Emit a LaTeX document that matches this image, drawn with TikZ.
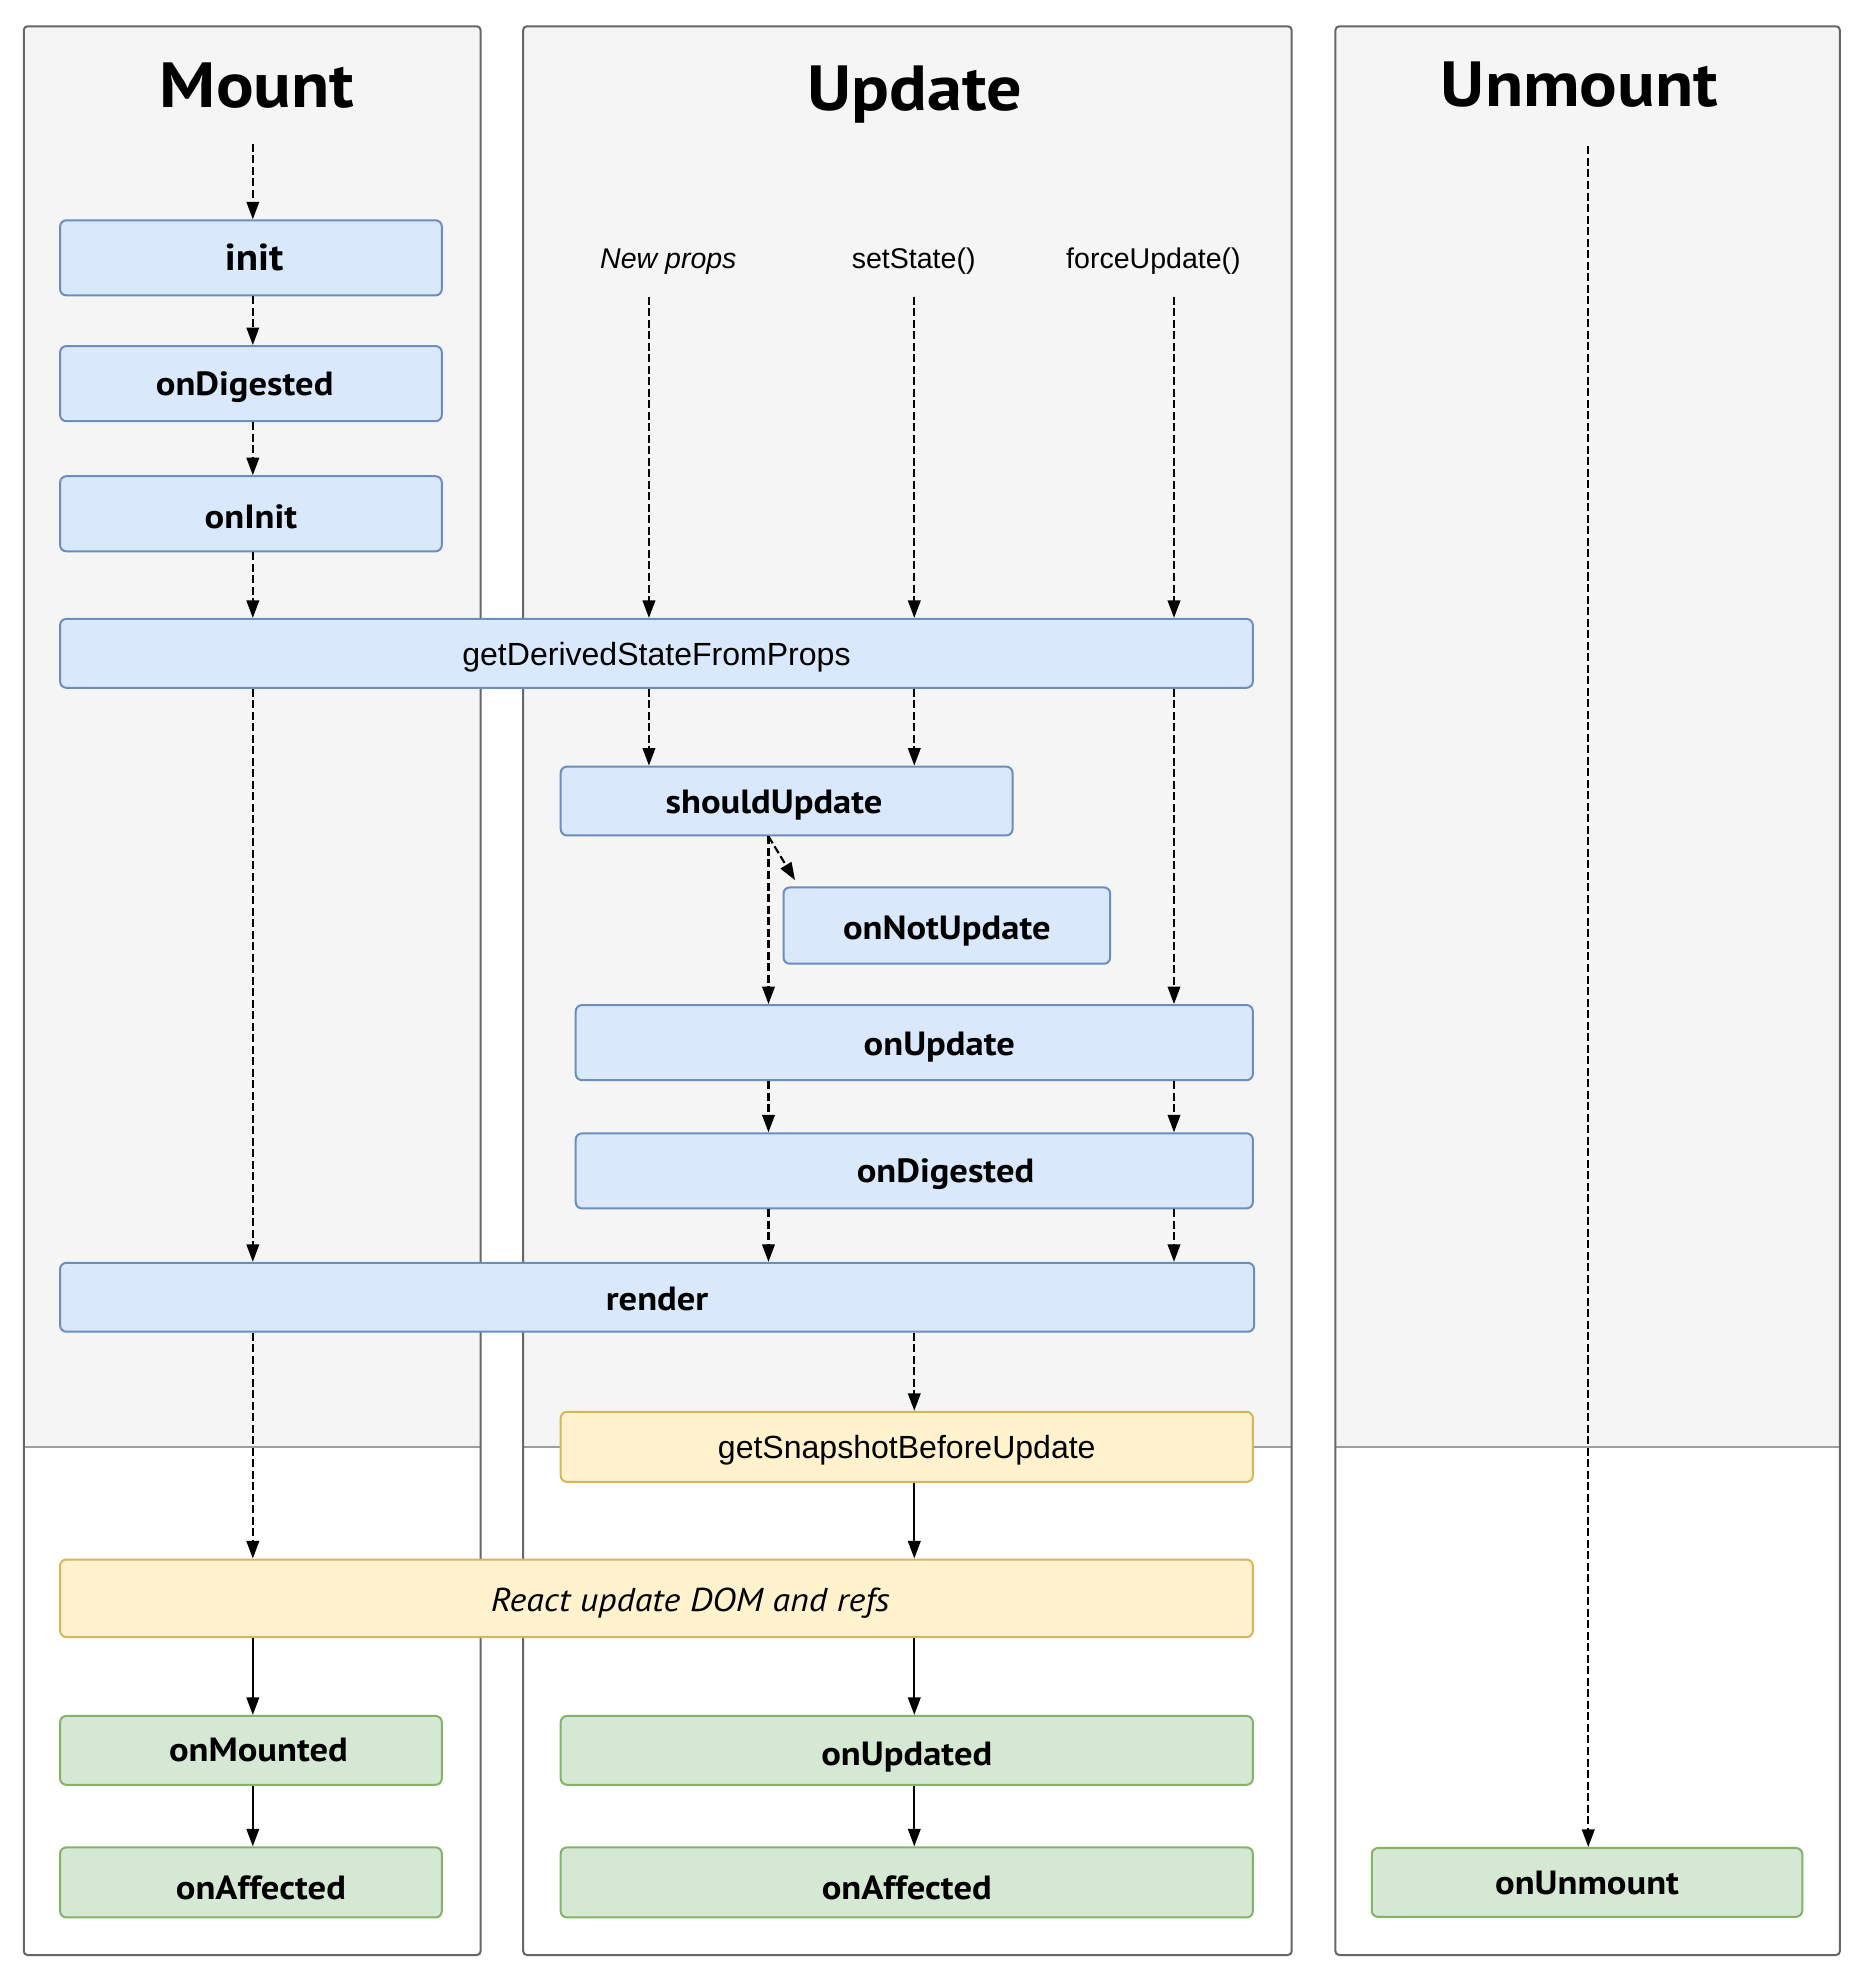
\documentclass[tikz,border=0pt]{standalone}
\usepackage{fontspec}
\setmainfont{Liberation Sans}
\newfontfamily\labelfont[FakeStretch=1.09]{PT Sans}
\newfontfamily\titlefont[FakeStretch=1.1]{PT Sans}
\usetikzlibrary{arrows.meta,positioning}
\definecolor{panelgray}{HTML}{F5F5F5}
\definecolor{panelline}{HTML}{666666}
\definecolor{sepline}{HTML}{9E9E9E}
\definecolor{blueline}{HTML}{6C8EBF}
\definecolor{bluefill}{HTML}{DAE8FC}
\definecolor{yellowline}{HTML}{D6B656}
\definecolor{yellowfill}{HTML}{FFF2CC}
\definecolor{greenline}{HTML}{82B366}
\definecolor{greenfill}{HTML}{D5E8D4}
\begin{document}
\begin{tikzpicture}[x=0.5pt,y=-0.5pt,
        dims/.style 2 args={minimum width=#1*0.5pt,minimum height=#2*0.5pt},
        drop/.style={text height=#1,text depth=0pt},
        blk/.style={draw=blueline,fill=bluefill,line width=0.8pt,rounded corners=2.5pt,
            inner sep=0pt,drop=10pt,font=\labelfont\bfseries\fontsize{13.4}{16}\selectfont},
        blkreg/.style={blk,drop=9.4pt,font=\fontsize{12.8}{15}\selectfont},
        yel/.style={blkreg,draw=yellowline,fill=yellowfill},
        grn/.style={blk,draw=greenline,fill=greenfill},
        title/.style={anchor=base,inner sep=0pt,font=\titlefont\bfseries\fontsize{25.5}{30}\selectfont},
        src/.style={anchor=base,inner sep=0pt,font=\fontsize{11.4}{13}\selectfont},
        flow/.style={-{Triangle[length=7pt,width=5pt]},line width=0.85pt},
        dflow/.style={flow,dash pattern=on 3.2pt off 1.4pt}]
    \useasboundingbox (0,0) rectangle (1490,1570);
    % panels
    \fill[panelgray,rounded corners=1.5pt] (19,21) rectangle (384,1156);
    \draw[sepline,line width=0.7pt] (19,1156) -- (384,1156);
    \draw[panelline,line width=0.8pt,rounded corners=1.5pt] (19,21) rectangle (384,1562);
    \fill[panelgray,rounded corners=1.5pt] (418,21) rectangle (1032,1156);
    \draw[sepline,line width=0.7pt] (418,1156) -- (1032,1156);
    \draw[panelline,line width=0.8pt,rounded corners=1.5pt] (418,21) rectangle (1032,1562);
    \fill[panelgray,rounded corners=1.5pt] (1067,21) rectangle (1470,1156);
    \draw[sepline,line width=0.7pt] (1067,1156) -- (1470,1156);
    \draw[panelline,line width=0.8pt,rounded corners=1.5pt] (1067,21) rectangle (1470,1562);

    \node[title] (tmount) at (205.5,85.5) {Mount};
    \node[title] (tupdate) at (731,88.5) {Update};
    \node[title] (tunmount) at (1262,85) {Unmount};

    \node[src,font=\fontsize{11.4}{13}\selectfont\itshape] (lprops) at (534,214.7) {New props};
    \node[src] (lstate) at (730,214.7) {setState()};
    \node[src] (lforce) at (921.6,214.7) {forceUpdate()};

    % mount column
    \node[blk,dims={305}{60},drop=10.4pt,font=\labelfont\bfseries\fontsize{15}{18}\selectfont] (init) at (200.5,206) {\hspace*{2.5pt}init};
    \node[blk,dims={305}{60},drop=9.4pt] (mdig) at (200.5,306.5) {onDigested\hspace*{5pt}};
    \node[blk,dims={305}{60},drop=12pt] (oninit) at (200.5,410.5) {onInit};
    \node[blkreg,dims={953}{55}] (gdsfp) at (524.5,522) {getDerivedStateFromProps};
    % update column
    \node[blk,dims={361}{55},drop=9.6pt] (should) at (628.5,640) {shouldUpdate\hspace*{10pt}};
    \node[blk,dims={261}{61},drop=10.8pt] (onnot) at (756.5,739.5) {onNotUpdate};
    \node[blk,dims={541}{60}] (onupd) at (730.5,833) {\hspace*{20pt}onUpdate};
    \node[blk,dims={541}{60},drop=9.5pt] (udig) at (730.5,935.5) {\hspace*{25pt}onDigested};
    \node[blk,dims={954}{55},drop=10.5pt] (render) at (525,1036.5) {render};
    \node[yel,dims={553}{56},drop=9.6pt] (snap) at (724.5,1156) {getSnapshotBeforeUpdate};
    \node[yel,dims={953}{62},drop=10.6pt,font=\labelfont\itshape\fontsize{13.2}{16}\selectfont] (react) at (524.5,1277) {\hspace*{27pt}React update DOM and refs};
    \node[grn,dims={305}{55},drop=9pt] (mounted) at (200.5,1398.5) {\hspace*{6pt}onMounted};
    \node[grn,dims={305}{56},drop=13.7pt] (maff) at (200.5,1504) {\hspace*{8pt}onAffected};
    \node[grn,dims={553}{55},drop=12.4pt] (updated) at (724.5,1398.5) {onUpdated};
    \node[grn,dims={553}{56},drop=13.7pt] (uaff) at (724.5,1504) {onAffected};
    % unmount column
    \node[grn,dims={344}{55},drop=9.6pt] (unmount) at (1268,1504) {onUnmount};

    \coordinate (cm) at (202,115);
    \coordinate (cp) at (518.5,237);
    \coordinate (cs) at (730.5,237);
    \coordinate (cf) at (938,237);
    \coordinate (cu) at (614,667);
    \coordinate (cx) at (1269,117);

    \draw[dflow] (cm) -- (cm |- init.north);
    \draw[dflow] (cm |- init.south) -- (cm |- mdig.north);
    \draw[dflow] (cm |- mdig.south) -- (cm |- oninit.north);
    \draw[dflow] (cm |- oninit.south) -- (cm |- gdsfp.north);
    \draw[dflow] (cm |- gdsfp.south) -- (cm |- render.north);
    \draw[dflow] (cm |- render.south) -- (cm |- react.north);
    \draw[flow] (cm |- react.south) -- (cm |- mounted.north);
    \draw[flow] (cm |- mounted.south) -- (cm |- maff.north);

    \draw[dflow] (cp) -- (cp |- gdsfp.north);
    \draw[dflow] (cs) -- (cs |- gdsfp.north);
    \draw[dflow] (cf) -- (cf |- gdsfp.north);
    \draw[dflow] (cp |- gdsfp.south) -- (cp |- should.north);
    \draw[dflow] (cs |- gdsfp.south) -- (cs |- should.north);
    \draw[dflow] (cf |- gdsfp.south) -- (cf |- onupd.north);
    \draw[dflow] (cu |- should.south) -- (cu |- onupd.north);
    \draw[dflow] (cu |- should.south) -- ([xshift=5pt,yshift=2.5pt]onnot.north west);
    \draw[dflow] (cu |- onupd.south) -- (cu |- udig.north);
    \draw[dflow] (cf |- onupd.south) -- (cf |- udig.north);
    \draw[dflow] (cu |- udig.south) -- (cu |- render.north);
    \draw[dflow] (cf |- udig.south) -- (cf |- render.north);
    \draw[dflow] (cs |- render.south) -- (cs |- snap.north);
    \draw[flow] (cs |- snap.south) -- (cs |- react.north);
    \draw[flow] (cs |- react.south) -- (cs |- updated.north);
    \draw[flow] (cs |- updated.south) -- (cs |- uaff.north);

    \draw[dflow] (cx) -- (cx |- unmount.north);
\end{tikzpicture}
\end{document}
